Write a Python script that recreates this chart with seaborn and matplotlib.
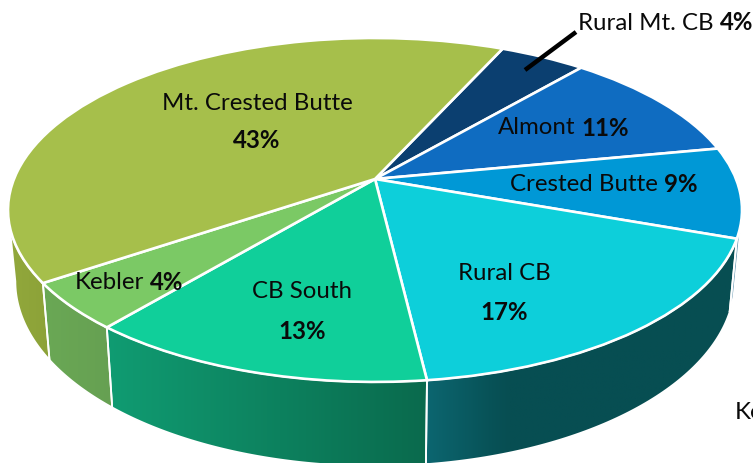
import numpy as np
import matplotlib
matplotlib.use("Agg")
import matplotlib.pyplot as plt
from matplotlib.colors import LinearSegmentedColormap
from matplotlib.patches import Polygon
from matplotlib.transforms import Transform
import seaborn as sns

sns.set_theme(style="white")
plt.rcParams["font.family"] = ["Lato", "DejaVu Sans"]

names = ["Rural Mt. CB", "Almont", "Crested Butte", "Rural CB", "CB South", "Kebler", "Mt. Crested Butte"]
labels = ["4%", "11%", "9%", "17%", "13%", "4%", "43%"]
# Slice sizes as drawn in the picture, which differ slightly from the printed labels
slice_sizes = [4.5, 10.72, 8.5, 17.64, 12.94, 4.44, 41.25]
top_colors = ["#0B3F70", "#0F6CC1", "#0098D6", "#0DCFDA", "#10CF9A", "#7BC965", "#A6BF4B"]
wall_stops = [
    ["#0B3F70", "#0B3F70"],
    ["#0F6CC1", "#0F6CC1"],
    ["#5F93AE", "#5F93AE"],
    ["#0C6670", "#074E52", "#074E52", "#074E52", "#074E52"],
    ["#109C72", "#0A6A4D"],
    ["#6AA855", "#66A052"],
    ["#92A83C", "#8CA238"],
]

CX, CY, A, B, K, DEPTH, SHRINK = 375, 180, 361, 166.4, 0.18, 69, 0.98


class Perspective(Transform):
    input_dims = output_dims = 2
    is_affine = False
    has_inverse = False

    def transform_non_affine(self, v):
        v = np.asarray(v, float)
        x, y = v[:, 0], v[:, 1]
        w = 1 + K * y
        return np.column_stack([CX + A * x / w, CY - B * y / w])


def rim(deg):
    t = np.radians(deg)
    return Perspective().transform_non_affine(np.column_stack([np.cos(t), np.sin(t)]))


def floor(deg):
    p = rim(deg)
    w = 1 + K * np.sin(np.radians(deg))
    return np.column_stack([CX + (p[:, 0] - CX) * SHRINK, p[:, 1] + DEPTH / w])


fig = plt.figure(figsize=(7.53, 4.64), dpi=100, facecolor="white")
ax = fig.add_axes([0, 0, 1, 1])
wedges, _ = ax.pie(slice_sizes, startangle=65.7, counterclock=False, colors=sns.color_palette(top_colors),
                   wedgeprops=dict(edgecolor="white", linewidth=1.9, zorder=5))
persp = Perspective() + ax.transData
for w in wedges:
    w.set_transform(persp)

# Side walls: the front-facing part of each slice's rim
FRONT_A, FRONT_B = 190.4, 347.0
for w, stops in zip(wedges, wall_stops):
    a1, a2 = w.theta1 % 360, w.theta2 % 360
    if a2 < a1:
        a2 += 360
    for shift in (0, -360):
        lo, hi = max(a1 + shift, FRONT_A), min(a2 + shift, FRONT_B)
        if hi <= lo:
            continue
        deg = np.linspace(lo, hi, 80)
        poly = np.vstack([rim(deg), floor(deg)[::-1]])
        edge = Polygon(poly, closed=True, fc="none", ec="white", lw=1.3, zorder=3)
        ax.add_patch(edge)
        cmap = LinearSegmentedColormap.from_list("w", sns.blend_palette(stops, 16))
        im = ax.imshow(np.linspace(0, 1, 256)[None, :], cmap=cmap, aspect="auto", zorder=2,
                       extent=[poly[:, 0].min(), poly[:, 0].max(), poly[:, 1].max(), poly[:, 1].min()])
        im.set_clip_path(edge)

ax.set_aspect("auto")
ax.set_xlim(0, 753)
ax.set_ylim(464, 0)
ax.axis("off")

FS = 17.3
renderer = fig.canvas.get_renderer()


def mixed(x_left, y, regular, bold):
    t = ax.text(x_left, y, regular, fontsize=FS, color="#0a0a0a", va="center", ha="left", zorder=8)
    x1 = t.get_window_extent(renderer).x1
    ax.text(x1 + 6, y, bold, fontsize=FS, fontweight="bold", color="#0a0a0a", va="center", ha="left", zorder=8)


def stacked(x, y1, y2, regular, bold):
    ax.text(x, y1, regular, fontsize=FS, color="#0a0a0a", va="center", ha="center", zorder=8)
    ax.text(x, y2, bold, fontsize=FS, fontweight="bold", color="#0a0a0a", va="center", ha="center", zorder=8)


mixed(578, 23, names[0], labels[0])
mixed(498, 128, names[1], labels[1])
mixed(510, 185, names[2], labels[2])
stacked(504, 274, 313, names[3], labels[3])
stacked(302, 292, 332, names[4], labels[4])
mixed(75, 283, names[5], labels[5])
stacked(257, 103, 141, names[6], labels[6])
ax.text(735, 413, "Ke", fontsize=FS, color="#0a0a0a", va="center", ha="left", zorder=8)
ax.plot([525, 576], [71, 33], color="black", lw=3.2, solid_capstyle="butt", zorder=7)

fig.savefig("out.png", dpi=100, facecolor="white")
